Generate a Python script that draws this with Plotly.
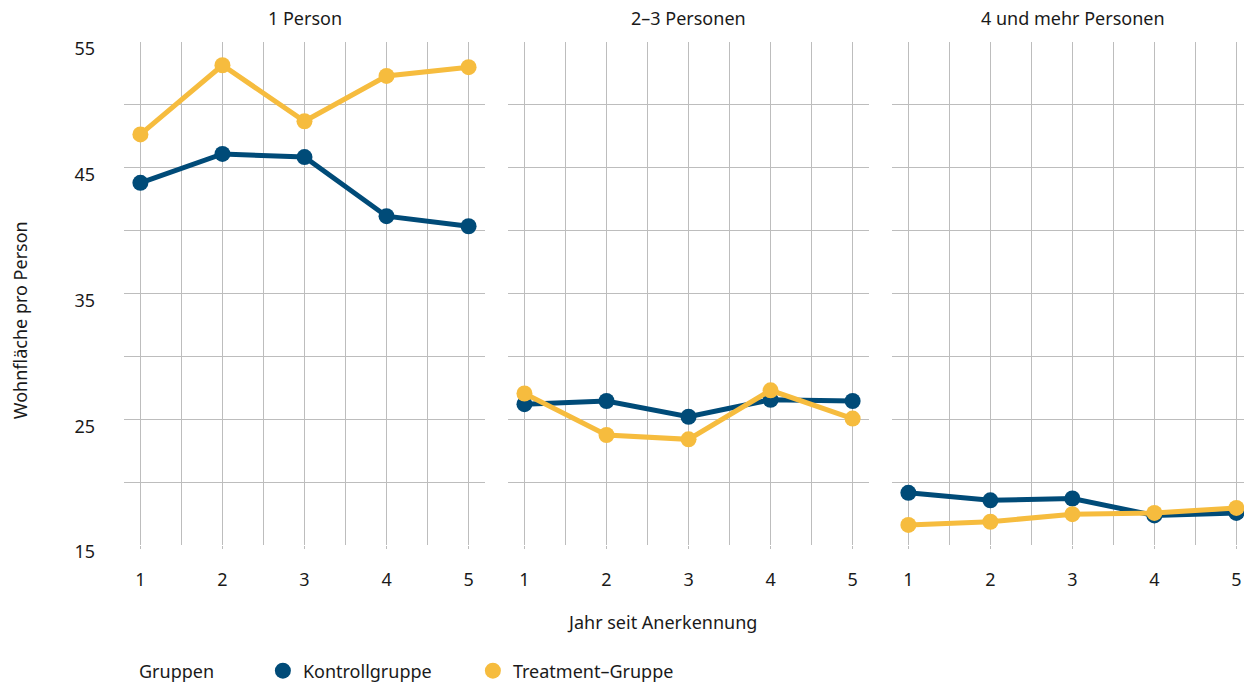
import plotly.graph_objects as go

# Wohnfläche pro Person nach Haushaltsgröße, Jahr seit Anerkennung
jahre = [1, 2, 3, 4, 5]
panels = ["1 Person", "2–3 Personen", "4 und mehr Personen"]

kontroll = {
    "1 Person": [43.8, 46.1, 45.85, 41.15, 40.35],
    "2–3 Personen": [26.2, 26.45, 25.2, 26.55, 26.45],
    "4 und mehr Personen": [19.15, 18.55, 18.7, 17.35, 17.55],
}
treatment = {
    "1 Person": [47.65, 53.15, 48.7, 52.3, 53.0],
    "2–3 Personen": [27.05, 23.75, 23.4, 27.3, 25.05],
    "4 und mehr Personen": [16.6, 16.85, 17.45, 17.55, 17.95],
}

y_ticks = [15, 25, 35, 45, 55]

BLUE = "#004b78"
YELLOW = "#f6bc3e"
GRID = "#bdbdbd"
TEXT = "#1a1a1a"
FONT = "Noto Sans"
FS = 18

domains = [[0.0, 0.3223], [0.3429, 0.6652], [0.6857, 1.0]]
x_ranges = [[0.8, 5.2], [0.8, 5.2], [0.8, 5.093]]

fig = go.Figure()

for i, p in enumerate(panels):
    xa = "x" if i == 0 else f"x{i + 1}"
    ya = "y" if i == 0 else f"y{i + 1}"
    fig.add_trace(go.Scatter(
        x=jahre, y=kontroll[p], mode="lines+markers", xaxis=xa, yaxis=ya,
        line=dict(color=BLUE, width=5), marker=dict(color=BLUE, size=16),
        name="Kontrollgruppe", legendgroup="k", showlegend=False,
    ))
    fig.add_trace(go.Scatter(
        x=jahre, y=treatment[p], mode="lines+markers", xaxis=xa, yaxis=ya,
        line=dict(color=YELLOW, width=5), marker=dict(color=YELLOW, size=16),
        name="Treatment–Gruppe", legendgroup="t", showlegend=False,
    ))

# Legend entries (marker keys only)
for name, col in [("Kontrollgruppe", BLUE), ("Treatment–Gruppe", YELLOW)]:
    fig.add_trace(go.Scatter(
        x=[None], y=[None], mode="markers", name=name,
        marker=dict(color=col, size=16), showlegend=True,
    ))

axis_common = dict(
    showline=False, zeroline=False, showgrid=True,
    gridcolor=GRID, gridwidth=1,
)

layout = dict(
    width=1244, height=684,
    margin=dict(l=124, r=0, t=42, b=139, autoexpand=False),
    paper_bgcolor="white", plot_bgcolor="white",
    font=dict(family=FONT, size=FS, color=TEXT),
    showlegend=True,
    legend=dict(
        orientation="h", x=0.124, xanchor="left", y=-0.2505, yanchor="middle",
        font=dict(size=FS), itemwidth=30, traceorder="normal",
        entrywidth=165, entrywidthmode="pixels",
    ),
)

for i in range(3):
    sx = "" if i == 0 else str(i + 1)
    layout[f"xaxis{sx}"] = dict(
        axis_common, domain=domains[i], range=x_ranges[i], anchor=f"y{sx}",
        tickvals=jahre, ticks="outside", ticklen=3, tickcolor=GRID, tickwidth=1,
        ticklabelstandoff=15,
        minor=dict(tick0=0.5, dtick=0.5, showgrid=True, gridcolor=GRID, gridwidth=1),
    )
    layout[f"yaxis{sx}"] = dict(
        axis_common, range=[15, 55], anchor=f"x{sx}",
        tickvals=y_ticks, showticklabels=(i == 0), ticks="",
        ticklabelstandoff=28, ticklabelshift=7,
        minor=dict(tick0=15, dtick=5, showgrid=True, gridcolor=GRID, gridwidth=1),
    )
    if i > 0:
        layout[f"yaxis{sx}"]["matches"] = "y"

fig.update_layout(**layout)

# Facet strip titles
strip_centers = [(124 + 485) / 2, (508 + 869) / 2, (892 + 1253) / 2]
for p, c in zip(panels, strip_centers):
    fig.add_annotation(
        text=p, x=(c - 124) / 1120, y=1, xref="paper", yref="paper",
        xanchor="center", yanchor="middle", yshift=24, showarrow=False,
        font=dict(size=FS, color=TEXT),
    )

fig.add_annotation(
    text="Jahr seit Anerkennung", x=0.4804, y=0, xref="paper", yref="paper",
    xanchor="center", yanchor="middle", yshift=-77, showarrow=False,
    font=dict(size=FS, color=TEXT),
)
fig.add_annotation(
    text="Wohnfläche pro Person", x=0, y=0.447, xref="paper", yref="paper",
    xanchor="center", yanchor="middle", xshift=-104, textangle=-90,
    showarrow=False, font=dict(size=FS, color=TEXT),
)
fig.add_annotation(
    text="Gruppen", x=0, y=0, xref="paper", yref="paper",
    xanchor="left", yanchor="middle", xshift=13, yshift=-126, showarrow=False,
    font=dict(size=FS, color=TEXT),
)

fig.write_html("out.html")
